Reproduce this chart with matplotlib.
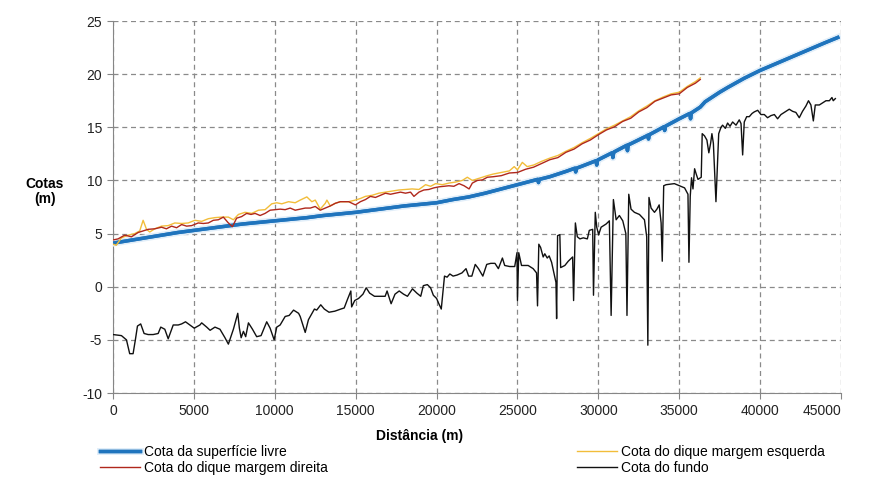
"""Perfil longitudinal: cotas da superfície livre, diques e fundo."""

import matplotlib
matplotlib.use("Agg")
import matplotlib.pyplot as plt
import matplotlib.patheffects as pe

# Cota da superfície livre
dist_sup = [0, 1000, 2000, 3000, 4000, 5000, 6000, 7000, 8000, 9000, 10000,
            11000, 12000, 13000, 14000, 15000, 16000, 17000, 18000, 19000,
            20000, 21000, 22000, 23000, 24000, 25000, 26000, 26250, 26300,
            26350, 27000, 28000, 28550, 28600, 28650, 29000, 29850, 29900,
            29950, 30000, 30850, 30900, 30950, 31000, 31750, 31800, 31850,
            32000, 33000, 33050, 33100, 33150, 34000, 34050, 34100, 34150,
            35000, 35650, 35700, 35750, 36000, 36300, 36600, 37000, 37500,
            38000, 39000, 40000, 41000, 42000, 43000, 44000, 44800]
cota_sup = [4.1, 4.35, 4.6, 4.85, 5.1, 5.3, 5.5, 5.7, 5.9, 6.05, 6.2,
            6.35, 6.5, 6.7, 6.85, 7.0, 7.2, 7.4, 7.6, 7.75,
            7.9, 8.2, 8.45, 8.8, 9.2, 9.6, 10.0, 10.1, 9.8,
            10.1, 10.35, 10.85, 11.15, 10.8, 11.15, 11.35, 11.85, 11.45,
            11.9, 11.95, 12.6, 12.15, 12.65, 12.7, 13.3, 12.8, 13.35,
            13.45, 14.2, 14.25, 13.9, 14.3, 15.0, 15.05, 14.7, 15.1,
            15.8, 16.3, 15.8, 16.35, 16.6, 16.9, 17.4, 17.8, 18.3,
            18.75, 19.6, 20.35, 21.0, 21.65, 22.3, 22.95, 23.45]

# Cota do dique margem esquerda
dist_esq = [0, 200, 520, 930, 1340, 1650, 1860, 2070, 2270, 2580, 3000, 3410,
            3820, 4240, 4650, 5060, 5480, 5890, 6300, 6710, 7130, 7440, 7750,
            8160, 8570, 8990, 9400, 9810, 10120, 10430, 10850, 11260, 11570,
            11980, 12290, 12500, 12810, 13120, 13220, 13430, 13740, 14050,
            14360, 14570, 14980, 15290, 15600, 16010, 16430, 16840, 17250,
            17670, 18080, 18490, 18910, 19320, 19630, 19940, 20350, 20760,
            21180, 21590, 21900, 22210, 22520, 22830, 23140, 23500, 24000,
            24500, 24800, 25000, 25300, 25600, 26000, 26500, 27000, 27500,
            28000, 28500, 29000, 29500, 30000, 30500, 31000, 31500, 32000,
            32500, 33000, 33500, 34000, 34500, 35000, 35500, 36000, 36300]
cota_esq = [4.0, 3.9, 4.6, 4.85, 5.0, 5.25, 6.25, 5.4, 5.15, 5.45, 5.7, 5.75,
            6.0, 5.95, 6.0, 6.25, 6.15, 6.4, 6.5, 6.55, 6.55, 6.3, 6.8,
            7.0, 6.9, 7.2, 7.25, 7.8, 7.9, 7.8, 8.0, 7.9, 8.15,
            8.45, 8.0, 8.15, 7.3, 7.85, 8.15, 7.6, 7.85, 8.0,
            8.0, 8.0, 8.15, 8.3, 8.5, 8.6, 8.8, 8.9, 9.0,
            9.1, 9.15, 9.2, 9.15, 9.6, 9.45, 9.7, 9.6, 9.75,
            9.85, 10.0, 10.3, 10.0, 10.15, 10.3, 10.45, 10.6, 10.75,
            10.9, 11.3, 11.0, 11.7, 11.3, 11.45, 11.8, 12.1, 12.35,
            12.75, 13.1, 13.55, 13.95, 14.4, 14.85, 15.2, 15.6, 16.0,
            16.55, 17.0, 17.5, 17.85, 18.15, 18.3, 18.85, 19.3, 19.65]

# Cota do dique margem direita
dist_dir = [0, 310, 720, 1140, 1550, 1860, 2170, 2580, 3000, 3300, 3620, 3930,
            4240, 4550, 4860, 5270, 5580, 5890, 6200, 6510, 6820, 7130, 7380,
            7640, 7950, 8260, 8530, 8780, 9090, 9400, 9710, 10020, 10330,
            10640, 10950, 11260, 11570, 11880, 12190, 12500, 12810, 13120,
            13430, 13740, 14050, 14360, 14570, 14980, 15290, 15600, 15910,
            16220, 16530, 16840, 17150, 17460, 17770, 18080, 18390, 18600,
            18910, 19210, 19520, 19830, 20150, 20460, 20760, 21070, 21390,
            21700, 22010, 22210, 22520, 22830, 23140, 23500, 24000, 24500,
            25000, 25500, 26000, 26500, 27000, 27500, 28000, 28500, 29000,
            29500, 30000, 30500, 31000, 31500, 32000, 32500, 33000, 33500,
            34000, 34500, 35000, 35500, 36000, 36300]
cota_dir = [4.4, 4.5, 4.85, 4.7, 5.1, 5.25, 5.4, 5.45, 5.6, 5.45, 5.7, 5.55,
            5.85, 5.7, 5.75, 6.0, 5.95, 6.0, 6.25, 6.3, 6.55, 6.0, 5.65,
            6.45, 6.6, 6.9, 6.8, 6.9, 6.7, 6.9, 7.2, 7.25, 7.3,
            7.25, 7.4, 7.2, 7.3, 7.4, 7.4, 7.55, 7.2, 7.4,
            7.6, 7.85, 8.0, 8.0, 8.0, 7.7, 8.0, 8.2, 8.5,
            8.4, 8.6, 8.8, 8.7, 8.8, 8.9, 8.8, 8.9, 8.5,
            8.9, 9.1, 9.15, 9.3, 9.4, 9.45, 9.5, 9.45, 9.7,
            9.5, 9.2, 9.75, 10.0, 10.05, 10.3, 10.35, 10.45, 10.7,
            10.75, 11.05, 11.25, 11.6, 11.95, 12.15, 12.65, 12.95, 13.45,
            13.8, 14.3, 14.75, 15.05, 15.55, 15.85, 16.45, 16.85, 17.45,
            17.75, 18.05, 18.15, 18.75, 19.15, 19.5]

# Cota do fundo
dist_fundo = [0, 520, 830, 1030, 1240, 1380, 1510, 1710, 1920, 2170, 2480,
              2790, 2950, 3200, 3410, 3720, 4030, 4240, 4480, 4750, 5020,
              5370, 5480, 5790, 6000, 6300, 6610, 6920, 7130, 7440, 7710,
              7810, 7920, 8060, 8200, 8370, 8620, 8880, 9150, 9500, 9710,
              9960, 10120, 10330, 10640, 10890, 11160, 11470, 11570, 11880,
              12080, 12450, 12590, 12840, 13060, 13350, 13710, 14080, 14290,
              14490, 14700, 14750, 14940, 15180, 15450, 15650, 15860, 16160,
              16570, 16820, 16940, 17190, 17430, 17690, 17960, 18200, 18510,
              18780, 19020, 19180, 19430, 19630, 19800, 20000, 20140, 20290,
              20490, 20650, 20820, 21020, 21270, 21570, 21820, 21980, 22180,
              22390, 22590, 22860, 23100, 23350, 23610, 23820, 24070, 24210,
              24520, 24830, 24970, 25000, 25080, 25250, 25660, 25970, 26180,
              26240, 26320, 26430, 26590, 26690, 26840, 26960, 27110, 27380,
              27420, 27480, 27620, 27670, 27930, 28140, 28410, 28470, 28580,
              28700, 28860, 29070, 29320, 29440, 29650, 29700, 29810, 29900,
              30020, 30170, 30480, 30680, 30790, 30930, 31100, 31300, 31510,
              31700, 31770, 31880, 32020, 32230, 32540, 32850, 32990, 33060,
              33130, 33260, 33470, 33620, 33760, 33880, 33950, 34040, 34190,
              34700, 35020, 35330, 35540, 35600, 35680, 35760, 35850, 35950,
              36050, 36160, 36360, 36420, 36560, 36710, 36830, 36940, 37020,
              37110, 37270, 37440, 37580, 37680, 37850, 37990, 38140, 38300,
              38510, 38710, 38820, 38920, 39020, 39170, 39330, 39500, 39640,
              39850, 40050, 40260, 40460, 40670, 40880, 41080, 41290, 41600,
              41800, 42010, 42210, 42420, 42620, 42830, 42990, 43140, 43290,
              43410, 43660, 43860, 44070, 44280, 44440, 44520, 44650]
cota_fundo = [-4.5, -4.6, -5.0, -6.3, -6.3, -5.0, -3.7, -3.5, -4.4, -4.5, -4.5,
              -4.4, -3.8, -4.0, -4.9, -3.6, -3.6, -3.5, -3.3, -3.6, -3.9,
              -3.6, -3.4, -3.8, -4.1, -3.8, -4.0, -4.8, -5.4, -4.0, -2.5,
              -3.9, -4.8, -4.2, -4.7, -3.4, -4.0, -4.7, -4.6, -3.3, -3.9,
              -5.0, -3.8, -3.6, -2.8, -2.7, -2.2, -2.5, -2.8, -4.3,
              -3.1, -2.1, -2.2, -1.7, -2.1, -2.4, -2.3, -2.1, -2.0,
              -1.2, -0.4, -1.9, -1.3, -1.1, -0.7, -0.1, -0.6, -0.9,
              -0.9, -0.9, -0.4, -1.6, -0.7, -0.4, -0.7, -0.9, -0.2,
              -0.6, -0.9, 0.1, 0.2, -0.1, -0.8, -1.1, -1.6, -2.1,
              1.0, 0.9, 1.2, 1.0, 1.1, 1.3, 1.7, 1.0, 1.0,
              2.1, 1.7, 1.0, 2.1, 2.2, 2.2, 1.7, 2.7, 2.0,
              1.9, 1.9, 3.2, -1.3, 3.2, 2.0, 2.0, 1.7, 1.3,
              -1.8, 4.0, 3.7, 2.8, 3.1, 2.7, 2.9, 2.3, 0.4,
              -3.0, 4.8, 4.9, 1.8, 2.0, 2.4, 2.8, -1.3, 6.0,
              4.7, 4.5, 4.6, 4.5, 5.3, 5.4, -0.8, 7.0, 5.6,
              4.9, 5.6, 5.9, 6.2, -2.7, 8.2, 6.3, 6.7, 6.2,
              5.0, -2.7, 8.7, 7.3, 7.0, 6.8, 6.3, 4.7, -5.5,
              8.4, 7.4, 7.0, 7.3, 7.7, 6.0, 2.4, 9.5, 9.6,
              9.7, 9.5, 9.3, 8.7, 2.3, 8.5, 10.25, 9.2, 11.1,
              10.6, 10.1, 10.3, 14.4, 14.2, 13.8, 12.6, 13.5, 14.4,
              13.5, 8.0, 14.4, 15.0, 15.2, 14.9, 15.4, 15.1, 15.5,
              15.2, 15.7, 15.35, 12.4, 15.5, 16.0, 16.0, 16.3, 16.45,
              16.6, 16.2, 16.2, 15.9, 16.1, 16.2, 15.8, 16.2, 16.5,
              16.7, 16.5, 16.4, 15.9, 16.5, 17.0, 17.5, 17.1, 15.6,
              17.1, 17.1, 17.3, 17.5, 17.5, 17.8, 17.5, 17.7]

x_ticks = list(range(0, 45001, 5000))
y_ticks = list(range(-10, 26, 5))

plt.rcParams["font.family"] = ["Liberation Sans", "DejaVu Sans"]
plt.rcParams["axes.unicode_minus"] = False

fig = plt.figure(figsize=(8.81, 4.99), dpi=100)
ax = fig.add_axes([0.1283, 0.2124, 0.8263, 0.7455])

# Séries (ordem do Excel)
l_sup, = ax.plot(dist_sup, cota_sup, color="#1f74bd", lw=2.5, zorder=3,
                 path_effects=[pe.withStroke(linewidth=5, foreground="#e1eef9"),
                               pe.Normal()])
l_esq, = ax.plot(dist_esq, cota_esq, color="#f2bd3a", lw=1.0, zorder=4)
l_dir, = ax.plot(dist_dir, cota_dir, color="#b0281c", lw=1.0, zorder=5)
l_fun, = ax.plot(dist_fundo, cota_fundo, color="#111111", lw=1.0, zorder=6)

ax.set_xlim(0, 45000)
ax.set_ylim(-10, 25)
ax.set_xticks(x_ticks)
ax.set_yticks(y_ticks)
ax.set_xticklabels([str(v) for v in x_ticks])
ax.get_xticklabels()[-1].set_ha("right")

ax.grid(True, color="#8a8a8a", lw=0.9, linestyle=(0, (4, 3)))
ax.set_axisbelow(True)
for s in ["top", "right"]:
    ax.spines[s].set_visible(False)
for s in ["left", "bottom"]:
    ax.spines[s].set_color("#868686")
ax.tick_params(axis="both", direction="out", length=4, color="#868686",
               labelsize=10, pad=4, labelcolor="#222222")

fig.text(0.476, 0.126, "Distância (m)", ha="center", va="center",
         fontsize=10, fontweight="bold")
fig.text(0.051, 0.617, "Cotas\n(m)", ha="center", va="center",
         fontsize=10, fontweight="bold", linespacing=1.1)

# Legenda em duas colunas afastadas
leg_kw = dict(loc="upper left", frameon=False, fontsize=10, handlelength=2.9,
              handletextpad=0.25, labelspacing=0.12, borderpad=0,
              borderaxespad=0)
fig.legend([l_sup, l_dir], ["Cota da superfície livre",
                            "Cota do dique margem direita"],
           bbox_to_anchor=(0.1135, 0.108), **leg_kw)
fig.legend([l_esq, l_fun], ["Cota do dique margem esquerda",
                            "Cota do fundo"],
           bbox_to_anchor=(0.655, 0.108), **leg_kw)

plt.savefig("out.png", dpi=100)
